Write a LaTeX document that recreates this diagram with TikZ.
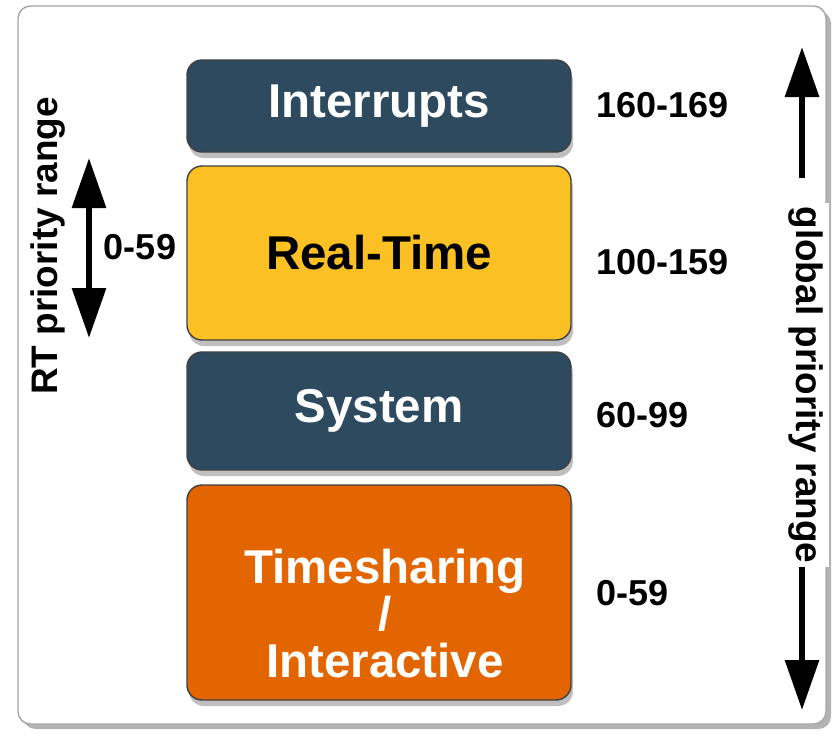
\documentclass[tikz,border=0pt]{standalone}
\usepackage{fontspec}
\setmainfont{Liberation Sans}
\usetikzlibrary{arrows.meta,shadows}

\definecolor{schedblue}{RGB}{45,74,95}
\definecolor{rtyellow}{RGB}{251,192,36}
\definecolor{tsorange}{RGB}{227,101,0}

\begin{document}
\begin{tikzpicture}[
  classbox/.style={rectangle, draw=black!75, line width=0.8pt, rounded corners=0.3cm, minimum width=7.68cm, align=center, font=\fontsize{27}{26.5}\selectfont\bfseries, drop shadow={opacity=0.5, shadow xshift=0.04cm, shadow yshift=-0.12cm}},
  boxtext/.style={align=center, font=\fontsize{27}{26.5}\selectfont\bfseries},
  rangenum/.style={anchor=west, font=\fontsize{20.5}{24}\selectfont\bfseries},
  sidetext/.style={font=\fontsize{21}{25}\selectfont\bfseries},
  bigarrow/.style={-{Triangle[length=1cm, width=0.66cm]}, line width=3.5pt},
  dblarrow/.style={{Triangle[length=1cm, width=0.66cm]}-{Triangle[length=1cm, width=0.66cm]}, line width=3.5pt}
]
  \useasboundingbox (0,0) rectangle (16.72,-14.72);

  % Outer frame
  \draw[draw=gray!70, line width=0.8pt, fill=white, rounded corners=0.25cm,
        drop shadow={opacity=0.6, shadow xshift=0.1cm, shadow yshift=-0.1cm}]
    (0.36,-0.12) rectangle (16.52,-14.48);

  % Scheduling classes (top = highest priority)
  \node[classbox, fill=schedblue, text=white, minimum height=1.84cm] (intr) at (7.58,-2.12) {Interrupts};
  \node[classbox, fill=rtyellow, text=black, minimum height=3.48cm] (rt) at (7.58,-5.06) {Real-Time};
  \node[classbox, fill=schedblue, text=white, minimum height=2.36cm] (sys) at (7.58,-8.22) {System};
  \node[classbox, fill=tsorange, minimum height=4.3cm] (ts) at (7.58,-11.85) {};
  \node[boxtext, text=white] (tstext) at ([xshift=0.12cm, yshift=-0.42cm]ts.center) {Timesharing\\/\\Interactive};

  % Global priority numbers
  \node[rangenum] (numintr) at (11.8,-2.1) {160-169};
  \node[rangenum] (numrt) at (11.8,-5.24) {100-159};
  \node[rangenum] (numsys) at (11.8,-8.3) {60-99};
  \node[rangenum] (numts) at (11.8,-11.86) {0-59};

  % RT range (left)
  \node[sidetext, rotate=90] (rtlabel) at (0.96,-4.92) {RT priority range};
  \node[rangenum, anchor=center] (rtnum) at (2.8,-4.94) {0-59};
  \coordinate (rttop) at (1.78,-3.16);
  \coordinate (rtbot) at (1.78,-6.76);
  \draw[dblarrow] (rtbot) -- (rttop);

  % Global range (right)
  \node[sidetext, rotate=-90, fill=white, inner xsep=2pt] (glabel) at (16.12,-7.7) {global priority range};
  \coordinate (gtop) at (16.04,-0.94);
  \coordinate (gbot) at (16.04,-14.2);
  \draw[bigarrow, shorten <=0.5cm] (glabel.west -| gtop) -- (gtop);
  \draw[bigarrow] (glabel.east -| gbot) -- (gbot);
\end{tikzpicture}
\end{document}
